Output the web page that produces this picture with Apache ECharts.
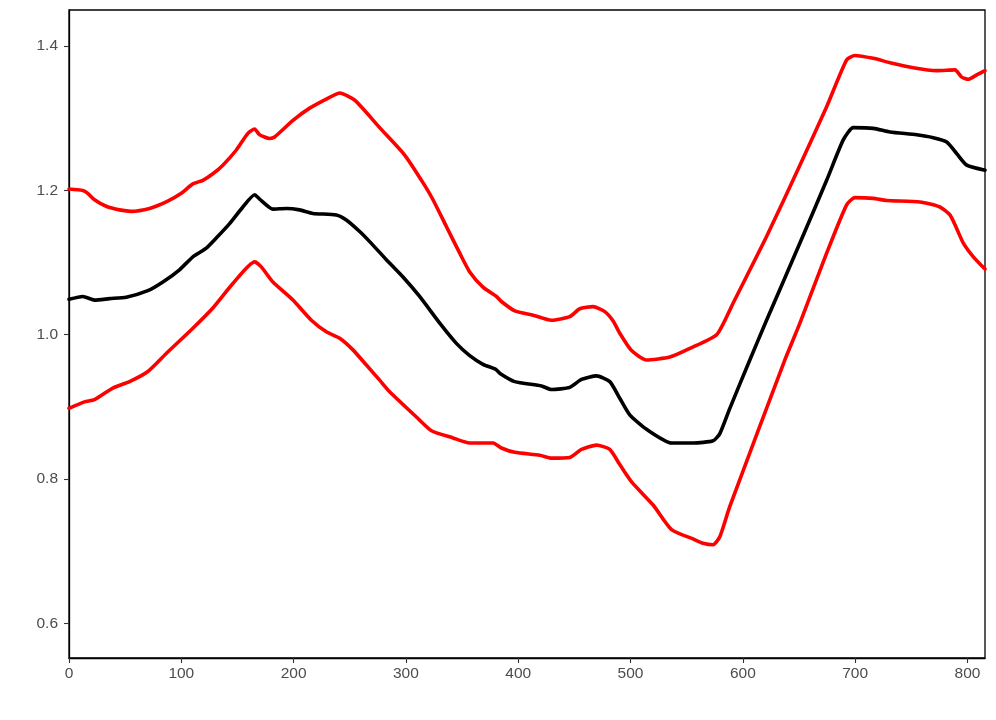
<!DOCTYPE html>
<html>
<head>
<meta charset="utf-8">
<script src="https://cdn.jsdelivr.net/npm/echarts@6/dist/echarts.min.js"></script>
<style>html,body{margin:0;padding:0;background:#fff}#c{width:996px;height:720px}</style>
</head>
<body>
<div id="c"></div>
<script>
var xTicks = [0, 100, 200, 300, 400, 500, 600, 700, 800];
var yTicks = [0.6, 0.8, 1.0, 1.2, 1.4];

var upperX = [0,12.3,16.7,22.7,33.1,45.0,55.4,71.7,86.6,100.0,110.3,119.2,128.1,137.0,149.0,159.3,165.3,169.7,178.6,183.1,199.4,214.3,232.1,241.0,254.4,276.6,298.9,316.7,324.1,336.0,347.9,356.8,368.6,380.6,385.0,396.9,413.2,429.6,445.9,454.8,466.6,477.1,484.5,490.4,500.9,514.2,535.0,552.8,576.6,588.4,591.4,621.1,650.8,674.6,692.4,699.8,716.1,731.0,751.7,772.6,788.9,794.8,800.7,808.2,815.6];
var upperY = [1.202,1.200,1.196,1.187,1.178,1.173,1.171,1.175,1.184,1.196,1.209,1.214,1.223,1.235,1.256,1.279,1.285,1.277,1.272,1.274,1.297,1.314,1.329,1.335,1.325,1.287,1.249,1.207,1.187,1.150,1.113,1.087,1.066,1.053,1.046,1.033,1.027,1.020,1.025,1.036,1.039,1.032,1.019,1.002,0.978,0.965,0.969,0.981,1.000,1.034,1.044,1.136,1.235,1.316,1.381,1.387,1.383,1.377,1.370,1.366,1.367,1.357,1.354,1.360,1.366];

var midX = [0,12.3,22.7,36.1,51.0,70.2,83.6,98.4,110.3,122.2,131.1,143.0,154.8,165.3,169.7,181.6,193.5,205.3,217.2,238.0,246.9,258.8,267.7,282.6,297.4,312.2,330.1,344.9,356.8,368.6,380.0,384.1,396.9,420.7,429.6,445.9,456.3,469.7,481.5,490.4,499.3,514.2,536.5,555.7,573.5,579.5,588.4,606.2,621.1,650.8,674.6,689.4,698.3,716.1,731.0,754.8,769.5,781.5,790.4,799.3,815.6];
var midY = [1.049,1.053,1.048,1.050,1.052,1.061,1.073,1.090,1.108,1.120,1.134,1.154,1.177,1.194,1.188,1.174,1.175,1.173,1.168,1.166,1.159,1.143,1.129,1.104,1.080,1.053,1.016,0.988,0.971,0.959,0.952,0.946,0.935,0.929,0.924,0.927,0.938,0.943,0.935,0.912,0.889,0.869,0.850,0.850,0.853,0.863,0.898,0.965,1.020,1.127,1.214,1.270,1.287,1.286,1.281,1.277,1.273,1.267,1.251,1.235,1.228];

var lowerX = [0,13.8,22.7,39.0,53.9,70.2,86.6,110.3,128.1,145.9,165.3,171.2,181.6,199.4,215.8,229.1,241.0,252.8,264.8,276.6,285.5,309.3,322.7,341.9,356.8,377.6,385.0,396.9,419.2,429.6,445.9,456.3,469.7,481.5,490.4,500.9,520.1,536.5,555.7,564.6,573.5,579.5,588.4,637.4,650.8,674.6,692.4,699.8,716.1,728.0,757.7,775.5,784.4,790.4,796.3,805.2,815.6];
var lowerY = [0.898,0.907,0.910,0.926,0.935,0.949,0.974,1.009,1.037,1.071,1.101,1.094,1.073,1.048,1.020,1.004,0.995,0.979,0.958,0.937,0.921,0.886,0.867,0.857,0.850,0.850,0.843,0.837,0.833,0.829,0.830,0.841,0.847,0.841,0.820,0.796,0.764,0.730,0.717,0.711,0.709,0.720,0.762,0.965,1.016,1.113,1.180,1.190,1.189,1.186,1.184,1.177,1.166,1.147,1.127,1.108,1.091];

function pairs(xs, ys) { return xs.map(function (x, i) { return [x, ys[i]]; }); }

var chart = echarts.init(document.getElementById('c'), null, { renderer: 'canvas' });
var labelStyle = { color: '#4d4d4d', fontSize: 15.5, fontFamily: 'Liberation Sans, Arial, sans-serif' };
function line(name, xs, ys, color) {
  return {
    name: name, type: 'line', data: pairs(xs, ys), showSymbol: false, symbol: 'none',
    smooth: 0.2,
    lineStyle: { color: color, width: 3.6, cap: 'round', join: 'round' },
    animation: false, silent: true
  };
}
chart.setOption({
  backgroundColor: '#fff',
  animation: false,
  grid: { left: 69, right: 11, top: 10, bottom: 62, show: true, borderColor: '#000', borderWidth: 1.3, backgroundColor: 'transparent' },
  xAxis: {
    type: 'value', min: 0, max: 815.6,
    axisLine: { show: true, lineStyle: { color: '#000', width: 1.3 } },
    axisTick: { show: true, length: 5, lineStyle: { color: '#333', width: 1.1 }, customValues: xTicks },
    axisLabel: Object.assign({ margin: 8, customValues: xTicks, formatter: function (v) { return String(v); } }, labelStyle),
    splitLine: { show: false }
  },
  yAxis: {
    type: 'value', min: 0.552, max: 1.45,
    axisLine: { show: true, lineStyle: { color: '#000', width: 1.3 } },
    axisTick: { show: true, length: 5, lineStyle: { color: '#333', width: 1.1 }, customValues: yTicks },
    axisLabel: Object.assign({ margin: 11, customValues: yTicks, formatter: function (v) { return v.toFixed(1); } }, labelStyle),
    splitLine: { show: false }
  },
  series: [
    line('upper', upperX, upperY, '#ff0000'),
    line('lower', lowerX, lowerY, '#ff0000'),
    line('estimate', midX, midY, '#000000')
  ]
});
</script>
</body>
</html>
